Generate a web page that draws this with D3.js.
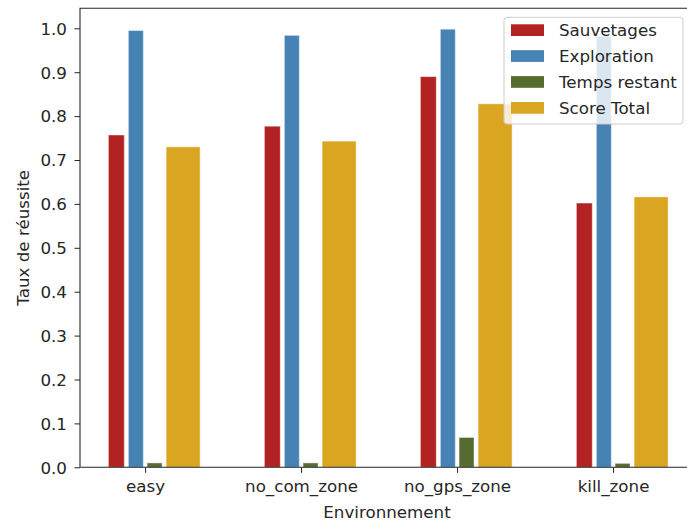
<!DOCTYPE html>
<html><head><meta charset="utf-8">
<script src="https://cdn.jsdelivr.net/npm/d3@7"></script>
<style>body{margin:0;background:#fff}svg{display:block}text{font-family:"DejaVu Sans",sans-serif;fill:#262626}</style>
</head><body><svg id="c" width="687" height="520"></svg>
<script>
const categories = ["easy", "no_com_zone", "no_gps_zone", "kill_zone"];
const seriesNames = ["Sauvetages", "Exploration", "Temps restant", "Score Total"];
const sauvetages = [0.757, 0.777, 0.890, 0.602];
const exploration = [0.995, 0.984, 0.998, 0.982];
const tempsRestant = [0.010, 0.010, 0.068, 0.009];
const scoreTotal = [0.730, 0.743, 0.828, 0.616];
const colors = ["#b22222", "#4682b4", "#556b2f", "#daa520"];
const yTicks = [0.0, 0.1, 0.2, 0.3, 0.4, 0.5, 0.6, 0.7, 0.8, 0.9, 1.0];
// bar extents relative to category centre, in category units
const barLeft = [-0.235, -0.107, 0.013, 0.135];
const barRight = [-0.133, -0.011, 0.109, 0.353];
const values = [sauvetages, exploration, tempsRestant, scoreTotal];

const svg = d3.select("#c");
const L = 80, R = 694, T = 8.3, B = 467.3;
const x = d3.scaleLinear().domain([-0.417, 3.519]).range([L, R]);
const y = d3.scaleLinear().domain([0, 1.0456]).range([B, T]);
const FS = "16.7px";

// bars
values.forEach((vals, s) => {
  svg.append("g").selectAll("rect").data(vals).join("rect")
    .attr("x", (d, i) => x(i + barLeft[s]))
    .attr("width", (d, i) => x(i + barRight[s]) - x(i + barLeft[s]))
    .attr("y", d => y(d))
    .attr("height", d => y(0) - y(d))
    .attr("fill", colors[s])
    .attr("stroke", "#fff").attr("stroke-opacity", 0.45).attr("stroke-width", 1);
});

// axes
const yAxis = d3.axisLeft(y).tickValues(yTicks).tickFormat(d3.format(".1f")).tickSize(5.5).tickPadding(5);
const gy = svg.append("g").attr("transform", `translate(${L},0)`).call(yAxis);
const xAxis = d3.axisBottom(x).tickValues(d3.range(categories.length)).tickFormat(i => categories[i]).tickSize(5.5).tickPadding(5);
const gx = svg.append("g").attr("transform", `translate(0,${B})`).call(xAxis);
[gx, gy].forEach(g => {
  g.select(".domain").remove();
  g.selectAll(".tick line").attr("stroke", "#262626").attr("stroke-width", 1);
  g.selectAll(".tick text").style("font-size", FS).attr("fill", "#262626");
});
gy.selectAll(".tick text").attr("dy", "0.35em").attr("x", -13);
gx.selectAll(".tick text").attr("dy", "0").attr("y", 25);

// spines
svg.append("path").attr("d", `M${L},${T}V${B}H${R}V${T}Z`).attr("fill", "none").attr("stroke", "#262626").attr("stroke-width", 1.1);

// labels
svg.append("text").attr("x", (L + R) / 2).attr("y", 517.5).attr("text-anchor", "middle").style("font-size", FS).text("Environnement");
svg.append("text").attr("transform", `translate(28.5,${(T + B) / 2}) rotate(-90)`).attr("text-anchor", "middle").style("font-size", FS).text("Taux de réussite");

// legend
const lg = svg.append("g");
lg.append("rect").attr("x", 504).attr("y", 17.3).attr("width", 179).attr("height", 106.7).attr("rx", 3)
  .attr("fill", "#fff").attr("fill-opacity", 0.8).attr("stroke", "#cccccc").attr("stroke-width", 1);
seriesNames.forEach((n, s) => {
  const yy = 24.3 + s * 25.9;
  lg.append("rect").attr("x", 511).attr("y", yy).attr("width", 33).attr("height", 11.7).attr("fill", colors[s]);
  lg.append("text").attr("x", 559).attr("y", yy + 11.7).style("font-size", FS).text(n);
});
</script></body></html>
